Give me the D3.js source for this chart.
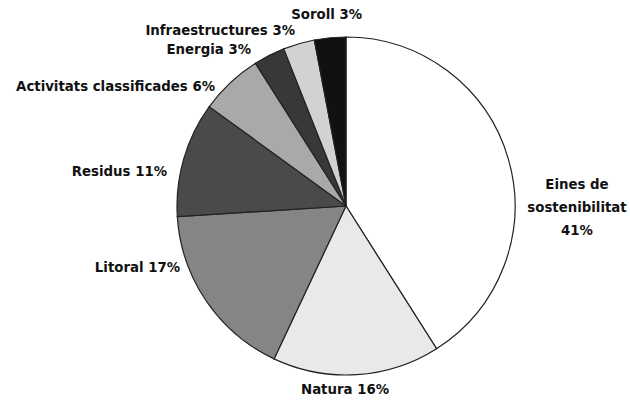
<!DOCTYPE html>
<html>
<head>
<meta charset="utf-8">
<script src="https://cdn.jsdelivr.net/npm/d3@7"></script>
<style>
  body { margin: 0; background: #fff; }
  text { font-family: "DejaVu Sans Condensed", "Liberation Sans Narrow", sans-serif; font-weight: bold; font-size: 14.8px; fill: #111; }
</style>
</head>
<body>
<svg id="chart" width="630" height="400"></svg>
<script>
// slices, clockwise from 12 o'clock
const categories = ["Eines de sostenibilitat", "Natura", "Litoral", "Residus", "Activitats classificades", "Energia", "Infraestructures", "Soroll"];
const values = [41, 16, 17, 11, 6, 3, 3, 3];
const fills = ["#ffffff", "#ebe8e8", "#858585", "#4a4a4a", "#a9a9a9", "#383838", "#d2d2d2", "#111111"];

// where each label goes (x, y, anchor)
const labelPos = [
  [577, 185, "middle"],
  [345, 390, "middle"],
  [180, 268, "end"],
  [167, 172, "end"],
  [215, 87, "end"],
  [251, 50, "end"],
  [295, 31, "end"],
  [362, 15, "end"]
];

const svg = d3.select("#chart");
const cx = 346, cy = 206, r = 169;

const pie = d3.pie().sort(null).value(d => d.value);
const arc = d3.arc().innerRadius(0).outerRadius(r);

const data = categories.map((c, i) => ({ name: c, value: values[i], fill: fills[i] }));

const g = svg.append("g").attr("transform", `translate(${cx},${cy})`);

g.selectAll("path")
  .data(pie(data))
  .enter()
  .append("path")
  .attr("d", arc)
  .attr("fill", d => d.data.fill)
  .attr("stroke", "#222")
  .attr("stroke-width", 1.2);

// labels
data.forEach((d, i) => {
  const [x, y, anchor] = labelPos[i];
  const t = svg.append("text")
    .attr("x", x)
    .attr("y", y)
    .attr("text-anchor", anchor)
    .attr("dominant-baseline", "middle");
  if (i === 0) {
    ["Eines de", "sostenibilitat", d.value + "%"].forEach((line, k) => {
      t.append("tspan").attr("x", x).attr("dy", k === 0 ? 0 : 23).text(line);
    });
  } else {
    t.text(d.name + " " + d.value + "%");
  }
});
</script>
</body>
</html>
